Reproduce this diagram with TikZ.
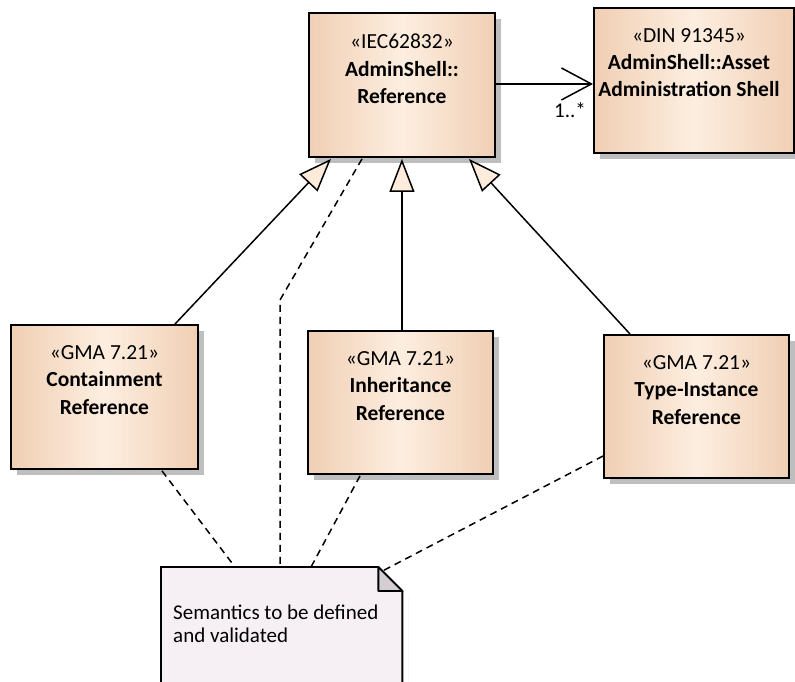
\documentclass[tikz,border=0pt]{standalone}
\usepackage{fontspec}
\setmainfont{Carlito}
\usetikzlibrary{arrows.meta,shadows,calc}

\definecolor{tanEdge}{RGB}{240,207,180}
\definecolor{tanMid}{RGB}{253,238,224}
\definecolor{shadowGray}{RGB}{190,190,190}
\definecolor{noteFill}{RGB}{246,240,244}
\definecolor{foldFill}{RGB}{212,205,210}
\definecolor{headFill}{RGB}{253,236,219}

\tikzset{
  classbox/.style={draw=black, line width=1.9pt, anchor=north west, inner sep=0pt,
    left color=tanEdge, right color=tanEdge, middle color=tanMid,
    drop shadow={shadow xshift=6pt, shadow yshift=-6pt, fill=shadowGray, opacity=1}},
  boxtext/.style={anchor=north, inner sep=0pt, align=center,
    font=\fontsize{21.5}{27.2}\selectfont},
  notetext/.style={anchor=north west, inner sep=0pt, align=left,
    font=\fontsize{21}{23}\selectfont},
  gen/.style={line width=1.5pt,
    -{Triangle[length=33pt, width=25pt, fill=headFill, line width=1.5pt]}},
  assoc/.style={line width=1.5pt,
    -{Straight Barb[length=30pt, width=32pt, line width=1.5pt]}},
  anchorline/.style={line width=1.5pt, dash pattern=on 7pt off 5pt},
  multlabel/.style={inner sep=0pt, font=\fontsize{21}{24}\selectfont}
}

\begin{document}
\begin{tikzpicture}[x=1pt, y=-1pt]
\useasboundingbox (0,0) rectangle (795,681);

% class boxes
\node[classbox, minimum width=186pt, minimum height=144pt] (ref) at (308,12) {};
\node[classbox, minimum width=200pt, minimum height=145pt] (asset) at (593,7) {};
\node[classbox, minimum width=187pt, minimum height=144pt] (cont) at (10,324) {};
\node[classbox, minimum width=185pt, minimum height=143pt] (inh) at (307,330) {};
\node[classbox, minimum width=185pt, minimum height=143pt] (typ) at (603,334) {};

% class labels
\node[boxtext] (refT) at ($(ref.north)+(0,22)$)
  {«IEC62832»\\\textbf{AdminShell::}\\\textbf{Reference}};
\node[boxtext] (assetT) at ($(asset.north)+(-5,21)$)
  {«DIN 91345»\\\textbf{AdminShell::Asset}\\\textbf{Administration Shell}};
\node[boxtext] (contT) at ($(cont.north)+(0,21.5)$)
  {«GMA 7.21»\\\textbf{Containment}\\\textbf{Reference}};
\node[boxtext] (inhT) at ($(inh.north)+(0,21.5)$)
  {«GMA 7.21»\\\textbf{Inheritance}\\\textbf{Reference}};
\node[boxtext] (typT) at ($(typ.north)+(0,21.5)$)
  {«GMA 7.21»\\\textbf{Type-Instance}\\\textbf{Reference}};

% note with folded corner
\node[anchor=north west, inner sep=0pt, minimum width=241pt, minimum height=130pt] (note) at (161,567) {};
\fill[shadowGray] ($(note.north east)+(6,30)$) rectangle ($(note.south east)+(6,0)$);
\draw[line width=1.9pt, fill=noteFill]
  (note.north west) -- ($(note.north east)+(-24,0)$) -- ($(note.north east)+(0,24)$)
  -- (note.south east) -- (note.south west) -- cycle;
\draw[line width=1.9pt, fill=foldFill, line join=round]
  ($(note.north east)+(-24,0)$) -- ($(note.north east)+(-24,24)$)
  -- ($(note.north east)+(0,24)$) -- cycle;
\node[notetext] (noteT) at ($(note.north west)+(12,38)$)
  {Semantics to be defined\\and validated};

% generalizations
\draw[gen] ($(cont.north west)+(165,0)$) -- ($(ref.south west)+(23,1)$);
\draw[gen] (inh.north -| ref.south) -- ($(ref.south)+(0,1)$);
\draw[gen] ($(typ.north west)+(27,0)$) -- ($(ref.south west)+(161,1)$);

% association
\draw[assoc] ($(ref.east)+(0,-1)$) -- ($(ref.east -| asset.west)+(0,-1)$);
\node[multlabel] (mult) at ($(asset.west)+(-23,30)$) {1..*};

% note anchors
\coordinate (bend) at ($(note.north west)+(119,-267)$);
\draw[anchorline] ($(ref.south west)+(54,1)$) -- (bend) -- ($(note.north west)+(119,0)$);
\draw[anchorline] ($(cont.south west)+(152,1)$) -- ($(note.north west)+(74,0)$);
\draw[anchorline] ($(inh.south west)+(53,1)$) -- ($(note.north west)+(150,0)$);
\draw[anchorline] ($(typ.north west)+(0,122)$) -- ($(note.north east)+(-20,4)$);
\end{tikzpicture}
\end{document}
